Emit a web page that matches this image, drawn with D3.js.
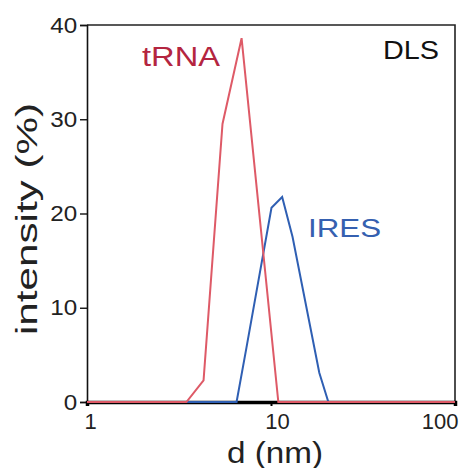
<!DOCTYPE html>
<html>
<head>
<meta charset="utf-8">
<script src="https://cdn.jsdelivr.net/npm/d3@7/dist/d3.min.js"></script>
<style>
  html, body { margin: 0; padding: 0; background: #fff; }
  svg { display: block; font-family: "Liberation Sans", Arial, sans-serif; }
</style>
</head>
<body>
<svg id="chart" width="462" height="468"></svg>
<script>
// ---- data ----
const trnaD      = [1, 3.47, 4.3, 5.45, 6.92, 8.71, 10.96, 100];
const trnaVals   = [0, 0, 2.3, 29.5, 38.6, 19.3, 0, 0];
const iresD      = [1, 6.5, 7.36, 10.06, 11.5, 13.1, 18.3, 20.5, 100];
const iresVals   = [0, 0, 5.8, 20.6, 21.75, 17.5, 3.1, 0, 0];
const xTicks     = [1, 10, 100];
const xTickLabels = ["1", "10", "100"];
const yTicks     = [0, 10, 20, 30, 40];
const yTickLabels = ["0", "10", "20", "30", "40"];

const svg = d3.select("#chart");
const plotL = 87, plotR = 455, plotT = 25, plotB = 402;

const x = d3.scaleLog().domain([1, 100]).range([plotL, plotR]);
const y = d3.scaleLinear().domain([0, 40]).range([plotB, plotT]);

// frame (top & right)
svg.append("path")
  .attr("d", `M${plotL},${plotT}H${plotR}V${plotB}`)
  .attr("fill", "none").attr("stroke", "#222").attr("stroke-width", 1.6);

// y axis
const yAxis = svg.append("g").attr("transform", `translate(${plotL},0)`)
  .call(d3.axisLeft(y).tickValues(yTicks).tickFormat((d, i) => yTickLabels[i]).tickSize(7).tickPadding(2));
yAxis.select(".domain").attr("stroke", "#111").attr("stroke-width", 1.6);
yAxis.selectAll(".tick line").attr("stroke", "#111").attr("stroke-width", 1.4);
yAxis.selectAll(".tick text").attr("font-size", 22).attr("fill", "#222")
  .attr("font-family", "Liberation Sans, Arial, sans-serif")
  .attr("transform", "scale(1.1,1)");

// x axis
const xAxis = svg.append("g").attr("transform", `translate(0,${plotB})`)
  .call(d3.axisBottom(x).tickValues(xTicks).tickFormat((d, i) => xTickLabels[i]).tickSize(4).tickPadding(7));
xAxis.select(".domain").attr("stroke", "#000").attr("stroke-width", 3.5);
xAxis.selectAll(".tick line").attr("stroke", "#000").attr("stroke-width", 2);
xAxis.selectAll(".tick text").attr("font-size", 22).attr("fill", "#222")
  .attr("font-family", "Liberation Sans, Arial, sans-serif");
xAxis.selectAll(".tick text").filter(d => d === 1).attr("dx", 3);
xAxis.selectAll(".tick text").filter(d => d === 10).attr("dx", 6);
xAxis.selectAll(".tick text").filter(d => d === 100).attr("text-anchor", "end").attr("dx", 3);

// lines
const line = d3.line().x(d => x(d[0])).y(d => y(d[1]));
svg.append("path")
  .datum(iresD.map((d, i) => [d, iresVals[i]]))
  .attr("d", line).attr("fill", "none")
  .attr("stroke", "#2f5fb3").attr("stroke-width", 2).attr("stroke-linejoin", "miter");
svg.append("path")
  .datum(trnaD.map((d, i) => [d, trnaVals[i]]))
  .attr("d", line).attr("fill", "none")
  .attr("stroke", "#de5a67").attr("stroke-width", 2).attr("stroke-linejoin", "miter");

// labels
svg.append("text").attr("x", 142).attr("y", 66).attr("font-size", 27)
  .attr("fill", "#b42540").attr("textLength", 78).attr("lengthAdjust", "spacingAndGlyphs").text("tRNA");
svg.append("text").attr("x", 383).attr("y", 59).attr("font-size", 26)
  .attr("fill", "#111").attr("textLength", 56).attr("lengthAdjust", "spacingAndGlyphs").text("DLS");
svg.append("text").attr("x", 308).attr("y", 237).attr("font-size", 26)
  .attr("fill", "#3560b0").attr("textLength", 73).attr("lengthAdjust", "spacingAndGlyphs").text("IRES");
svg.append("text").attr("x", 227).attr("y", 463).attr("font-size", 30)
  .attr("fill", "#222").attr("textLength", 96).attr("lengthAdjust", "spacingAndGlyphs").text("d (nm)");
svg.append("text").attr("transform", "translate(37,335) rotate(-90)").attr("font-size", 29)
  .attr("fill", "#222").attr("textLength", 232).attr("lengthAdjust", "spacingAndGlyphs").text("intensity (%)");
</script>
</body>
</html>
